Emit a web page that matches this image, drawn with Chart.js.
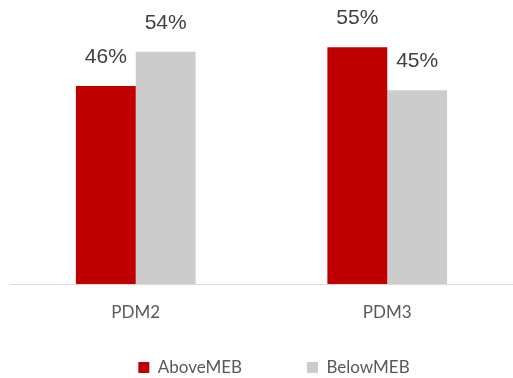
<!DOCTYPE html>
<html>
<head>
<meta charset="utf-8">
<script src="https://cdn.jsdelivr.net/npm/chart.js@4"></script>
<style>
  html, body { margin: 0; padding: 0; background: #fff; }
  #wrap { width: 513px; height: 378px; }
</style>
</head>
<body>
<div id="wrap"><canvas id="c"></canvas></div>
<script>
// values
const categories = ['PDM2', 'PDM3'];
const aboveMEB = [46, 55];
const belowMEB = [54, 45];
const seriesNames = ['AboveMEB', 'BelowMEB'];

// value labels above the bars
const barLabels = {
  id: 'barLabels',
  afterDatasetsDraw(chart) {
    const ctx = chart.ctx;
    ctx.save();
    ctx.font = '21px "Liberation Sans", Arial, sans-serif';
    ctx.fillStyle = '#404040';
    ctx.textAlign = 'center';
    ctx.textBaseline = 'alphabetic';
    chart.data.datasets.forEach((ds, i) => {
      chart.getDatasetMeta(i).data.forEach((bar, j) => {
        ctx.fillText(ds.data[j] + '%', bar.x, bar.y - 23);
      });
    });
    ctx.restore();
  }
};

// nudge the legend a bit right and down, like the original
const legendShift = {
  id: 'legendShift',
  afterLayout(chart) {
    const lg = chart.legend;
    lg.left += 11; lg.right += 11;
    lg.top += 8; lg.bottom += 8;
  }
};

new Chart(document.getElementById('c').getContext('2d'), {
  type: 'bar',
  data: {
    labels: categories,
    datasets: [
      {label: seriesNames[0], data: aboveMEB, backgroundColor: '#C00000'},
      {label: seriesNames[1], data: belowMEB, backgroundColor: '#CCCCCC'}
    ]
  },
  options: {
    responsive: true,
    maintainAspectRatio: false,
    animation: false,
    categoryPercentage: 0.476,
    barPercentage: 1,
    layout: {padding: {left: 10, right: -3, top: 0, bottom: 0}},
    plugins: {
      tooltip: {enabled: false},
      legend: {
        position: 'bottom',
        labels: {
          color: '#595959',
          font: {family: 'Lato', size: 17},
          boxWidth: 11,
          boxHeight: 11,
          padding: 4,
          generateLabels(chart) {
            const items = Chart.defaults.plugins.legend.labels.generateLabels(chart);
            items[0].text += ' '.repeat(14);
            return items;
          }
        }
      }
    },
    scales: {
      x: {
        grid: {display: false, drawTicks: false},
        border: {color: '#D9D9D9', width: 1},
        ticks: {
          color: '#595959',
          font: {family: 'Lato', size: 17},
          padding: 18
        },
        afterFit: s => { s.height = 63; }
      },
      y: {display: false, min: 0, max: 66}
    }
  },
  plugins: [barLabels, legendShift]
});
</script>
</body>
</html>
